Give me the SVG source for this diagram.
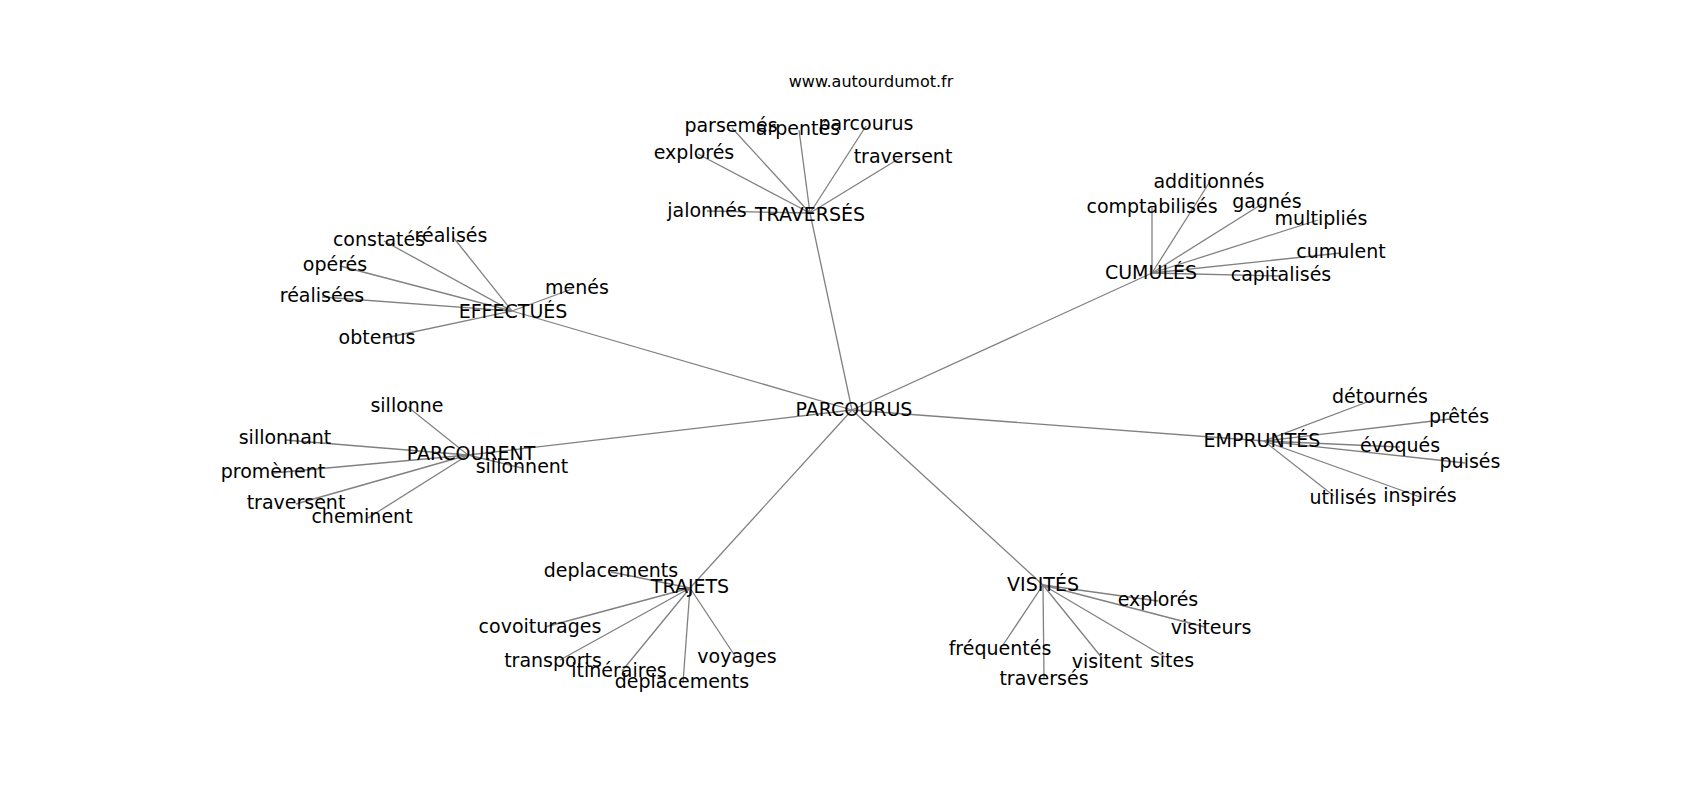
<svg xmlns="http://www.w3.org/2000/svg" width="1700" height="800" viewBox="0 0 1700 800">
<style>
text{font-family:"DejaVu Sans","Liberation Sans",sans-serif;fill:#000;text-anchor:middle}
.l{font-size:19px}
.t{font-size:16px}
#edges line{stroke:#808080;stroke-width:1.3}
</style>
<rect width="1700" height="800" fill="#fff"/>
<g id="edges">
<line x1="852" y1="410" x2="810" y2="213"/>
<line x1="852" y1="410" x2="1152" y2="273"/>
<line x1="852" y1="410" x2="512" y2="311"/>
<line x1="852" y1="410" x2="468" y2="455"/>
<line x1="852" y1="410" x2="1264" y2="441"/>
<line x1="852" y1="410" x2="690" y2="588"/>
<line x1="852" y1="410" x2="1043" y2="585"/>
<line x1="810" y1="213" x2="732" y2="128"/>
<line x1="810" y1="213" x2="799" y2="130"/>
<line x1="810" y1="213" x2="866" y2="126"/>
<line x1="810" y1="213" x2="698" y2="154"/>
<line x1="810" y1="213" x2="900" y2="158"/>
<line x1="810" y1="213" x2="707" y2="211"/>
<line x1="1152" y1="273" x2="1209" y2="183"/>
<line x1="1152" y1="273" x2="1152" y2="208"/>
<line x1="1152" y1="273" x2="1262" y2="204"/>
<line x1="1152" y1="273" x2="1318" y2="220"/>
<line x1="1152" y1="273" x2="1341" y2="253"/>
<line x1="1152" y1="273" x2="1281" y2="276"/>
<line x1="512" y1="311" x2="384" y2="241"/>
<line x1="512" y1="311" x2="453" y2="237"/>
<line x1="512" y1="311" x2="340" y2="266"/>
<line x1="512" y1="311" x2="322" y2="297"/>
<line x1="512" y1="311" x2="572" y2="289"/>
<line x1="512" y1="311" x2="385" y2="338"/>
<line x1="468" y1="455" x2="408" y2="407"/>
<line x1="468" y1="455" x2="285" y2="440"/>
<line x1="468" y1="455" x2="273" y2="473"/>
<line x1="468" y1="455" x2="296" y2="504"/>
<line x1="468" y1="455" x2="368" y2="518"/>
<line x1="468" y1="455" x2="522" y2="468"/>
<line x1="1264" y1="441" x2="1375" y2="399"/>
<line x1="1264" y1="441" x2="1450" y2="419"/>
<line x1="1264" y1="441" x2="1400" y2="447"/>
<line x1="1264" y1="441" x2="1465" y2="463"/>
<line x1="1264" y1="441" x2="1334" y2="496"/>
<line x1="1264" y1="441" x2="1420" y2="497"/>
<line x1="690" y1="588" x2="611" y2="572"/>
<line x1="690" y1="588" x2="545" y2="627"/>
<line x1="690" y1="588" x2="560" y2="660"/>
<line x1="690" y1="588" x2="622" y2="671"/>
<line x1="690" y1="588" x2="683" y2="683"/>
<line x1="690" y1="588" x2="735" y2="656"/>
<line x1="1043" y1="585" x2="1158" y2="601"/>
<line x1="1043" y1="585" x2="1205" y2="627"/>
<line x1="1043" y1="585" x2="1003" y2="645"/>
<line x1="1043" y1="585" x2="1044" y2="678"/>
<line x1="1043" y1="585" x2="1102" y2="658"/>
<line x1="1043" y1="585" x2="1165" y2="657"/>
</g>
<text id="title" class="t" x="871" y="87">www.autourdumot.fr</text>
<g id="n-parcourus"><text class="l" x="854" y="416">PARCOURUS</text></g>
<g id="n-traverses"><text class="l" x="810" y="221">TRAVERSÉS</text></g>
<g id="n-parsemes"><text class="l" x="731" y="132">parsemés</text></g>
<g id="n-arpentes"><text class="l" x="798" y="135">arpentés</text></g>
<g id="n-parcourus2"><text class="l" x="866" y="130">parcourus</text></g>
<g id="n-explores"><text class="l" x="694" y="159">explorés</text></g>
<g id="n-traversent"><text class="l" x="903" y="163">traversent</text></g>
<g id="n-jalonnes"><text class="l" x="707" y="217">jalonnés</text></g>
<g id="n-cumules"><text class="l" x="1151" y="279">CUMULÉS</text></g>
<g id="n-additionnes"><text class="l" x="1209" y="188">additionnés</text></g>
<g id="n-comptabilises"><text class="l" x="1152" y="213">comptabilisés</text></g>
<g id="n-gagnes"><text class="l" x="1267" y="208">gagnés</text></g>
<g id="n-multiplies"><text class="l" x="1321" y="225">multipliés</text></g>
<g id="n-cumulent"><text class="l" x="1341" y="258">cumulent</text></g>
<g id="n-capitalises"><text class="l" x="1281" y="281">capitalisés</text></g>
<g id="n-effectues"><text class="l" x="513" y="318">EFFECTUÉS</text></g>
<g id="n-constates"><text class="l" x="379" y="246">constatés</text></g>
<g id="n-realises"><text class="l" x="451" y="242">réalisés</text></g>
<g id="n-operes"><text class="l" x="335" y="271">opérés</text></g>
<g id="n-realisees"><text class="l" x="322" y="302">réalisées</text></g>
<g id="n-menes"><text class="l" x="577" y="294">menés</text></g>
<g id="n-obtenus"><text class="l" x="377" y="344">obtenus</text></g>
<g id="n-parcourent"><text class="l" x="471" y="460">PARCOURENT</text></g>
<g id="n-sillonne"><text class="l" x="407" y="412">sillonne</text></g>
<g id="n-sillonnant"><text class="l" x="285" y="444">sillonnant</text></g>
<g id="n-promenent"><text class="l" x="273" y="478">promènent</text></g>
<g id="n-traversent2"><text class="l" x="296" y="509">traversent</text></g>
<g id="n-cheminent"><text class="l" x="362" y="523">cheminent</text></g>
<g id="n-sillonnent"><text class="l" x="522" y="473">sillonnent</text></g>
<g id="n-empruntes"><text class="l" x="1262" y="447">EMPRUNTÉS</text></g>
<g id="n-detournes"><text class="l" x="1380" y="403">détournés</text></g>
<g id="n-pretes"><text class="l" x="1459" y="423">prêtés</text></g>
<g id="n-evoques"><text class="l" x="1400" y="452">évoqués</text></g>
<g id="n-puises"><text class="l" x="1470" y="468">puisés</text></g>
<g id="n-utilises"><text class="l" x="1343" y="504">utilisés</text></g>
<g id="n-inspires"><text class="l" x="1420" y="502">inspirés</text></g>
<g id="n-trajets"><text class="l" x="690" y="593">TRAJETS</text></g>
<g id="n-deplacements"><text class="l" x="611" y="577">deplacements</text></g>
<g id="n-covoiturages"><text class="l" x="540" y="633">covoiturages</text></g>
<g id="n-transports"><text class="l" x="553" y="667">transports</text></g>
<g id="n-itineraires"><text class="l" x="619" y="677">itinéraires</text></g>
<g id="n-deplacements2"><text class="l" x="682" y="688">deplacements</text></g>
<g id="n-voyages"><text class="l" x="737" y="663">voyages</text></g>
<g id="n-visites"><text class="l" x="1043" y="591">VISITÉS</text></g>
<g id="n-explores2"><text class="l" x="1158" y="606">explorés</text></g>
<g id="n-visiteurs"><text class="l" x="1211" y="634">visiteurs</text></g>
<g id="n-frequentes"><text class="l" x="1000" y="655">fréquentés</text></g>
<g id="n-traverses2"><text class="l" x="1044" y="685">traversés</text></g>
<g id="n-visitent"><text class="l" x="1107" y="668">visitent</text></g>
<g id="n-sites"><text class="l" x="1172" y="667">sites</text></g>
</svg>
